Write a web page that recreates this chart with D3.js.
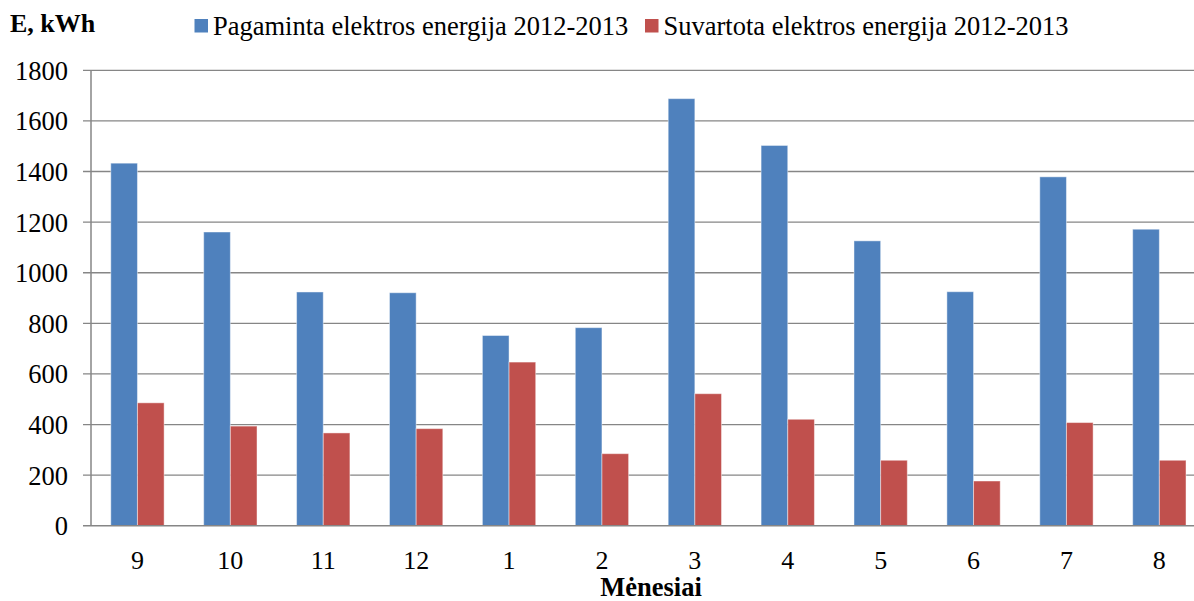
<!DOCTYPE html>
<html>
<head>
<meta charset="utf-8">
<script src="https://cdn.jsdelivr.net/npm/d3@7"></script>
<style>
html,body{margin:0;padding:0;background:#fff;overflow:hidden;}
svg{display:block;}
svg text{font-family:'Liberation Serif','Times New Roman',Times,'DejaVu Serif',serif;}
</style>
</head>
<body>
<svg id="chart" width="1194" height="601"></svg>
<script>
const months = ["9","10","11","12","1","2","3","4","5","6","7","8"];
const produced = [1433, 1161, 924, 921, 752, 783, 1688, 1503, 1126, 925, 1379, 1172];
const consumed = [486, 394, 367, 384, 647, 285, 522, 421, 259, 177, 408, 259];
const seriesNames = ["Pagaminta elektros energija 2012-2013", "Suvartota elektros energija 2012-2013"];
const seriesColors = ["#4F81BD", "#C0504D"];
const yTicks = [0, 200, 400, 600, 800, 1000, 1200, 1400, 1600, 1800];

(function () {
const FONT = "'Liberation Serif','Times New Roman',Times,serif";
const svg = d3.select("#chart");
const pLeft = 91, pTop = 70.3, pBottom = 525.8, step = 92.9;
const pRight = pLeft + step * months.length;

const x = d3.scaleBand().domain(months).range([pLeft, pRight])
  .paddingInner(0.426).paddingOuter(0.213);
const xs = d3.scaleBand().domain([0, 1]).range([0, x.bandwidth()]);
const y = d3.scaleLinear().domain([0, 1800]).range([pBottom, pTop]);

svg.append("g").selectAll("line").data(yTicks.filter(d => d > 0)).join("line")
  .attr("x1", 83).attr("x2", 1194)
  .attr("y1", d => y(d)).attr("y2", d => y(d))
  .attr("stroke", "#868686").attr("stroke-width", 1.3);

const series = [produced, consumed];
series.forEach((vals, si) => {
  svg.append("g").selectAll("rect").data(months).join("rect")
    .attr("x", (m) => x(m) + xs(si))
    .attr("width", xs.bandwidth())
    .attr("y", (m, i) => y(vals[i]))
    .attr("height", (m, i) => y(0) - y(vals[i]))
    .attr("fill", seriesColors[si])
    .attr("stroke", "rgba(255,255,255,0.45)")
    .attr("stroke-width", 1);
});

svg.append("line").attr("x1", pLeft).attr("x2", pLeft).attr("y1", pTop).attr("y2", pBottom)
  .attr("stroke", "#868686").attr("stroke-width", 1.5);
svg.append("line").attr("x1", 83).attr("x2", 1194).attr("y1", y(0)).attr("y2", y(0))
  .attr("stroke", "#868686").attr("stroke-width", 1.5);

svg.append("g").selectAll("text").data(yTicks).join("text")
  .attr("x", 68).attr("y", d => y(d) + 9.5)
  .attr("text-anchor", "end").attr("font-family", FONT).attr("font-size", 26.5).attr("fill", "#000")
  .text(d => d);

svg.append("g").selectAll("text").data(months).join("text")
  .attr("x", m => x(m) + x.bandwidth() / 2).attr("y", 569)
  .attr("text-anchor", "middle").attr("font-family", FONT).attr("font-size", 26).attr("fill", "#000")
  .text(m => m);

svg.append("text").attr("x", 10).attr("y", 32).attr("font-family", FONT).attr("font-size", 26)
  .attr("font-weight", "bold").text("E, kWh");
svg.append("text").attr("x", 651).attr("y", 596).attr("text-anchor", "middle").attr("font-family", FONT)
  .attr("font-size", 26.5).attr("font-weight", "bold").text("Mėnesiai");

const legendX = [194.5, 645];
seriesNames.forEach((name, i) => {
  const g = svg.append("g");
  g.append("rect").attr("x", legendX[i]).attr("y", 19).attr("width", 13.5).attr("height", 13.5)
    .attr("fill", seriesColors[i]);
  g.append("text").attr("x", legendX[i] + 18.5).attr("y", 35).attr("font-family", FONT).attr("font-size", 26.5)
    .attr("fill", "#000").text(name);
});
})();
</script>
</body>
</html>
